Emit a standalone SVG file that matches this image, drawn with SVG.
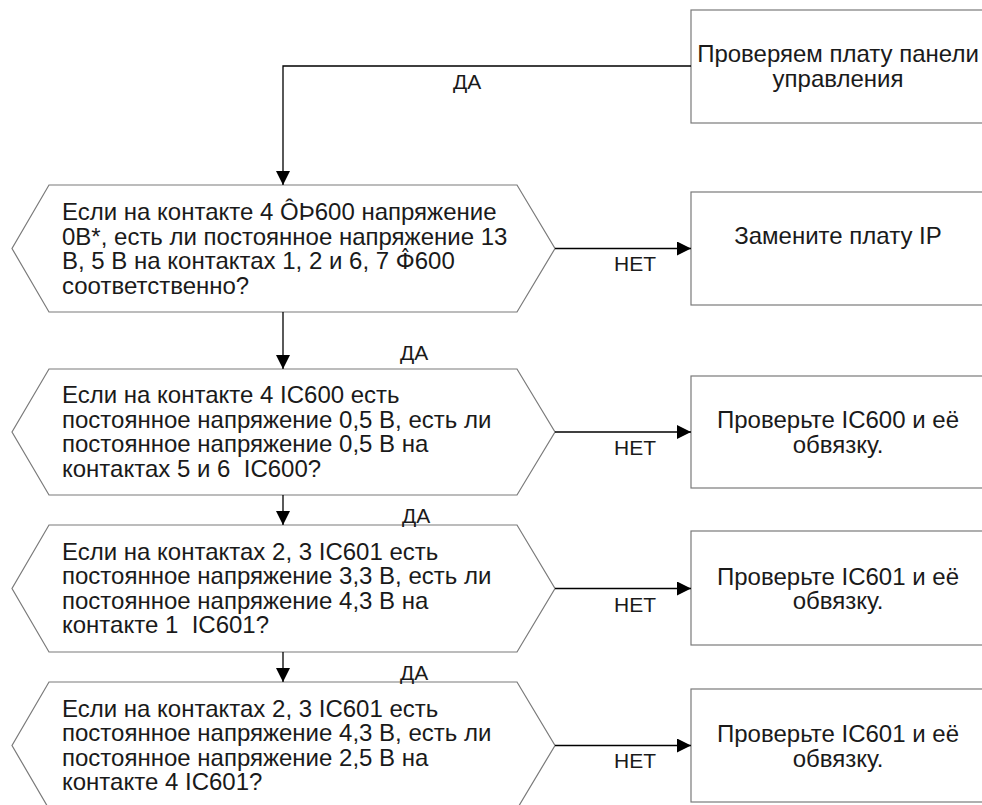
<svg xmlns="http://www.w3.org/2000/svg" width="982" height="805" viewBox="0 0 982 805">
<defs>
<marker id="arr" markerWidth="14" markerHeight="14" refX="14" refY="7" orient="auto" markerUnits="userSpaceOnUse">
<path d="M0,0 L14,7 L0,14 Z" fill="#000"/>
</marker>
<style>
.shape{fill:#fff;stroke:#7a7a7a;stroke-width:1.2}
.t{font-family:"Liberation Sans",Arial,sans-serif;font-size:24px;fill:#1a1a1a}
.c{text-anchor:middle}
.g{font-family:"DejaVu Sans",sans-serif;font-size:22px}
.lbl{font-family:"Liberation Sans",Arial,sans-serif;font-size:21px;fill:#1a1a1a}
.con{fill:none;stroke:#000;stroke-width:1.3}
</style>
</defs>
<rect width="982" height="805" fill="#fff"/>
<g id="box1">
<rect class="shape" x="691" y="10" width="296" height="113"/>
<text class="t c" x="838" y="62">Проверяем плату панели</text>
<text class="t c" x="838" y="87">управления</text>
</g>
<g id="dec1">
<polygon class="shape" points="49,185 517,185 555,248.5 517,312 49,312 12,248.5"/>
<text class="t" x="62" y="220">Если на контакте 4 ÔÞ600 напряжение</text>
<text class="t" x="62" y="244.5">0В*, есть ли постоянное напряжение 13</text>
<text class="t" x="62" y="269">В, 5 В на контактах 1, 2 и 6, 7 <tspan class="g">Ф̂</tspan>600</text>
<text class="t" x="62" y="293.5">соответственно?</text>
</g>
<g id="box2">
<rect class="shape" x="691" y="192" width="296" height="113"/>
<text class="t c" x="838" y="244">Замените плату IP</text>
</g>
<g id="dec2">
<polygon class="shape" points="49,369 517,369 555,432 517,495 49,495 12,432"/>
<text class="t" x="62" y="403">Если на контакте 4 IC600 есть</text>
<text class="t" x="62" y="427.5">постоянное напряжение 0,5 В, есть ли</text>
<text class="t" x="62" y="452">постоянное напряжение 0,5 В на</text>
<text class="t" x="62" y="476.5">контактах 5 и 6 &#160;IC600?</text>
</g>
<g id="box3">
<rect class="shape" x="691" y="376" width="296" height="112"/>
<text class="t c" x="838" y="428">Проверьте IC600 и её</text>
<text class="t c" x="838" y="452.5">обвязку.</text>
</g>
<g id="dec3">
<polygon class="shape" points="49,525 517,525 555,588.5 517,652 49,652 12,588.5"/>
<text class="t" x="62" y="559.5">Если на контактах 2, 3 IC601 есть</text>
<text class="t" x="62" y="584">постоянное напряжение 3,3 В, есть ли</text>
<text class="t" x="62" y="608.5">постоянное напряжение 4,3 В на</text>
<text class="t" x="62" y="633">контакте 1 &#160;IC601?</text>
</g>
<g id="box4">
<rect class="shape" x="691" y="531" width="296" height="114"/>
<text class="t c" x="838" y="584.5">Проверьте IC601 и её</text>
<text class="t c" x="838" y="609">обвязку.</text>
</g>
<g id="dec4">
<polygon class="shape" points="49,682 517,682 555,745.5 517,809 49,809 12,745.5"/>
<text class="t" x="62" y="716.5">Если на контактах 2, 3 IC601 есть</text>
<text class="t" x="62" y="741">постоянное напряжение 4,3 В, есть ли</text>
<text class="t" x="62" y="765.5">постоянное напряжение 2,5 В на</text>
<text class="t" x="62" y="790">контакте 4 IC601?</text>
</g>
<g id="box5">
<rect class="shape" x="691" y="689" width="296" height="113"/>
<text class="t c" x="838" y="742">Проверьте IC601 и её</text>
<text class="t c" x="838" y="766.5">обвязку.</text>
</g>
<g id="connectors">
<path class="con" d="M691,66 H283 V185" stroke="#444" marker-end="url(#arr)"/>
<path class="con" d="M283,312 V369" marker-end="url(#arr)"/>
<path class="con" d="M283,495 V525" marker-end="url(#arr)"/>
<path class="con" d="M283,652 V682" marker-end="url(#arr)"/>
<path class="con" d="M555,248.5 H691" marker-end="url(#arr)"/>
<path class="con" d="M555,432 H691" marker-end="url(#arr)"/>
<path class="con" d="M555,588.5 H691" marker-end="url(#arr)"/>
<path class="con" d="M555,745.5 H691" marker-end="url(#arr)"/>
<text class="lbl" x="453" y="89">ДА</text>
<text class="lbl" x="400" y="360">ДА</text>
<text class="lbl" x="402" y="523">ДА</text>
<text class="lbl" x="400" y="680">ДА</text>
<text class="lbl" x="614" y="271">НЕТ</text>
<text class="lbl" x="614" y="455">НЕТ</text>
<text class="lbl" x="614" y="612">НЕТ</text>
<text class="lbl" x="614" y="768">НЕТ</text>
</g>
</svg>
